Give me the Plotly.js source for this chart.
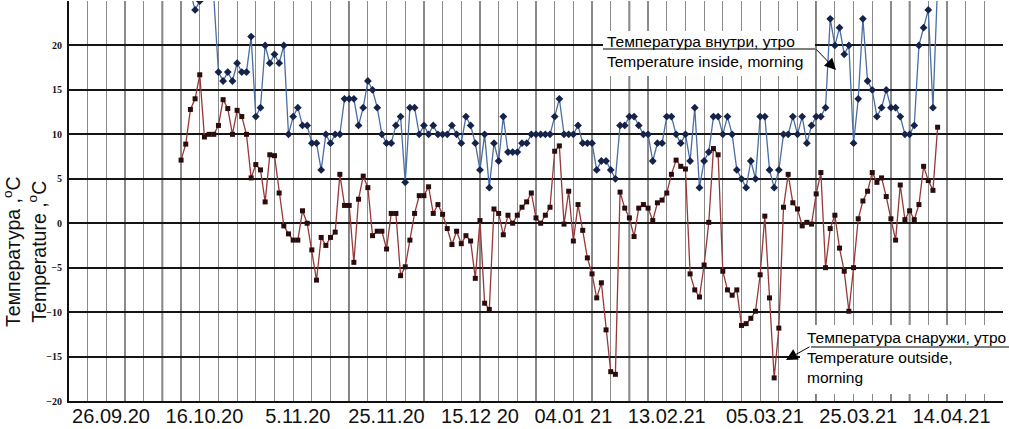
<!DOCTYPE html>
<html><head><meta charset="utf-8">
<script src="https://cdn.plot.ly/plotly-3.0.1.min.js"></script>
<style>html,body{margin:0;padding:0;background:#fff;} #chart{width:1009px;height:429px;}</style>
</head><body><div id="chart"></div>
<script>
// x tick labels (as printed in the original, category-like spacing of 20 days)
const tickLabels = ['26.09.20','16.10.20','5.11.20','25.11.20','15.12 20','04.01 21','13.02.21','05.03.21','25.03.21','14.04.21'];
const tickDays = [9, 29, 49, 68, 88, 108, 128, 149, 169, 189];
const yTicks = [-20, -15, -10, -5, 0, 5, 10, 15, 20, 25];
const firstDay = 24;

// Temperature inside, morning (°C), one value per day
const insideMorning = [
  27, 27, 26, 24, 25, 28, 28, 25.5, 17, 16, 17, 16, 18, 17, 17, 21, 12, 13, 20, 18, 19, 18, 20, 10, 12, 13, 11, 11, 9, 9, 6, 10, 9, 10, 10,
  14, 14, 14, 11, 13, 16, 15, 13, 10, 9, 9, 11, 12, 4.6, 13, 13, 10, 11, 10, 11, 10,
  10, 10, 11, 10, 9, 12, 11, 9, 6, 10, 4, 9, 7, 12, 8, 8, 8, 9, 9, 10, 10, 10, 10, 10, 12, 14, 10, 10, 10,
  11, 9, 9, 9, 6, 7, 7, 6, 5, 11, 11, 12, 12, 11, 10, 10, 7, 9, 9, 12, 12, 10, 9, 10, 7, 13, 4, 7, 8,
  12, 12, 10, 12, 10, 6, 5, 4, 7, 5, 12, 12, 6, 4, 6, 10, 10, 12, 10, 12, 9, 11, 12, 12, 13,
  23, 20, 22, 19, 20, 9, 14, 23, 16, 15, 12, 13, 15, 13, 13, 12, 10, 10, 11, 20, 22, 24, 13, 27
];

// Temperature outside, morning (°C), one value per day
const outsideMorning = [
  7.1, 8.9, 12.8, 14.0, 16.7, 9.7, 10.0, 10.0, 11.0, 13.9, 12.9, 10.0, 12.7, 12.0, 10.0, 5.1, 6.6, 6.0, 2.4, 7.7, 7.6, 3.4, -0.3, -1.2, -1.9, -1.9, 1.4, 0.0, -3.0, -6.4, -1.6, -2.5, -1.6, -1.0, 5.5,
  2.0, 2.0, -4.4, 2.7, 5.3, 4.0, -1.4, -0.9, -0.9, -2.9, 1.1, 1.1, -5.9, -4.9, -1.9, 1.1, 3.1, 3.1, 4.1, 1.1, 2.1,
  1.0, -0.6, -2.4, -0.9, -2.3, -1.4, -2.0, -6.2, 0.3, -9.0, -9.7, 1.6, 1.1, -1.3, 0.9, 0.0, 0.9, 1.8, 2.4, 3.4, 0.6, 0.0, 0.9, 1.8, 8.1, 8.7, -0.1, 3.6, -2.0,
  2.1, -0.8, -3.9, -5.7, -8.4, -6.7, -12.0, -16.7, -17.0, 3.5, 1.7, 0.6, -1.5, 1.7, 2.1, 1.7, 0.3, 2.3, 2.6, 3.4, 5.5, 7.1, 6.4, 6.1, -5.7, -7.5, -8.3, -4.7, 0.1,
  8.4, 7.7, -5.4, -7.5, -8.1, -7.5, -11.5, -11.3, -10.7, -9.9, -5.8, 0.8, -8.4, -17.4, -11.8, 1.8, 5.5, 2.3, 1.6, -0.3, 0.1, -0.1, 3.3, 5.7, -5.0,
  -0.6, 0.9, -2.8, -5.4, -9.9, -5.0, 0.5, 2.5, 3.6, 5.7, 4.6, 5.1, 3.0, 0.5, -1.9, 4.3, 0.4, 1.4, 0.4, 2.1, 6.4, 4.8, 3.7, 10.8
];

const days = insideMorning.map((_, i) => firstDay + i);
const darkGridDays = [20, 60, 76, 120, 160, 180];

// page-pixel -> paper helpers (plot area: x 69..1003, y 1..401)
const L = 69, W = 934, T = 1, H = 400;
const px = x => (x - L) / W;
const py = y => (T + H - y) / H;

const traces = [
  {
    x: days, y: insideMorning, type: 'scatter', mode: 'lines+markers', name: 'inside',
    line: {color: '#4a6da3', width: 1.3},
    marker: {symbol: 'diamond', size: 6, color: '#15234a'},
    cliponaxis: true
  },
  {
    x: days, y: outsideMorning, type: 'scatter', mode: 'lines+markers', name: 'outside',
    line: {color: '#963838', width: 1.3},
    marker: {symbol: 'square', size: 5, color: '#2a0c0c'},
    cliponaxis: true
  }
];

const shapes = darkGridDays.map(d => ({
  type: 'line', xref: 'x', yref: 'paper', x0: d, x1: d, y0: 0, y1: 1,
  line: {color: '#2a2a2a', width: 1.6}, layer: 'between'
}));
shapes.push(
  {type: 'rect', xref: 'paper', yref: 'paper', x0: px(603), x1: px(815), y0: py(76), y1: py(31),
   fillcolor: '#ffffff', line: {width: 0}, layer: 'above'},
  {type: 'line', xref: 'paper', yref: 'paper', x0: px(603), x1: px(815), y0: py(49), y1: py(49),
   line: {color: '#000', width: 1.2}, layer: 'above'},
  {type: 'rect', xref: 'paper', yref: 'paper', x0: px(800), x1: px(1006), y0: py(394), y1: py(325),
   fillcolor: '#ffffff', line: {width: 0}, layer: 'above'},
  {type: 'line', xref: 'paper', yref: 'paper', x0: px(811), x1: px(1009), y0: py(347), y1: py(347),
   line: {color: '#000', width: 1.2}, layer: 'above'}
);

const txtFont = {family: 'Liberation Sans, Arial, sans-serif', size: 15.5, color: '#000'};
const annotations = [
  {xref: 'paper', yref: 'paper', x: px(605), y: py(51), xanchor: 'left', yanchor: 'middle', align: 'left',
   text: 'Температура внутри, утро<br>Temperature inside, morning', showarrow: false, font: txtFont},
  {xref: 'paper', yref: 'paper', x: px(805), y: py(357), xanchor: 'left', yanchor: 'middle', align: 'left',
   text: 'Температура снаружи, утро<br>Temperature outside,<br>morning', showarrow: false, font: txtFont},
  {xref: 'paper', yref: 'paper', x: px(836), y: py(70), ax: -21, ay: -22, text: '', showarrow: true,
   arrowhead: 2, arrowsize: 2.3, arrowwidth: 1, arrowcolor: '#000'},
  {xref: 'paper', yref: 'paper', x: px(786), y: py(360), ax: 25, ay: -14, text: '', showarrow: true,
   arrowhead: 2, arrowsize: 2.3, arrowwidth: 1, arrowcolor: '#000'},
  {xref: 'paper', yref: 'paper', x: px(25), y: py(252), xanchor: 'center', yanchor: 'middle', textangle: -90,
   text: 'Температура ,<sup>o</sup>C<br>Temperature ,<sup>o</sup>C', showarrow: false,
   font: {family: 'Liberation Sans, Arial, sans-serif', size: 19.5, color: '#111'}}
];

const layout = {
  width: 1009, height: 429,
  margin: {l: L, r: 1009 - L - W, t: T, b: 429 - T - H, pad: 0},
  paper_bgcolor: '#fff', plot_bgcolor: '#fff',
  showlegend: false,
  xaxis: {
    range: [0, 200], tickmode: 'array', tickvals: tickDays, ticktext: tickLabels,
    showgrid: false, zeroline: false, showline: true, linecolor: '#111', linewidth: 2,
    ticks: '', ticklabelstandoff: -4,
    tickfont: {family: 'Liberation Sans, Arial, sans-serif', size: 20, color: '#111'},
    minor: {tickmode: 'linear', tick0: 0, dtick: 4, showgrid: true, gridcolor: '#8a8a8a', gridwidth: 1.2, ticks: ''}
  },
  yaxis: {
    range: [-20, 25], tickmode: 'array', tickvals: yTicks,
    showgrid: true, gridcolor: '#151515', gridwidth: 2, zeroline: false,
    showline: true, linecolor: '#111', linewidth: 2, ticks: '',
    tickfont: {family: 'Liberation Serif, Times New Roman, serif', size: 10, color: '#111', weight: 'bold'},
    ticklabelstandoff: 3
  },
  shapes: shapes,
  annotations: annotations
};

Plotly.newPlot('chart', traces, layout, {staticPlot: true, displayModeBar: false});
</script>
</body></html>
